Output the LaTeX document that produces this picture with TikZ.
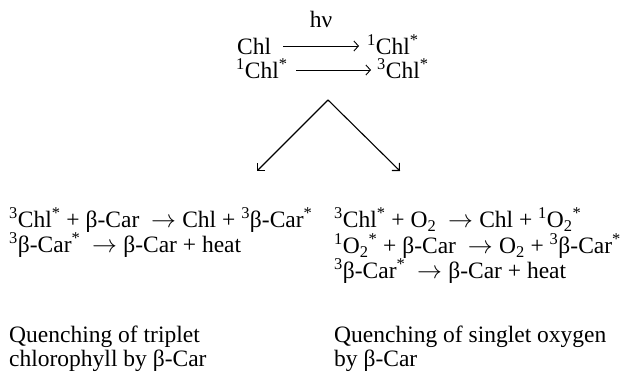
\documentclass[tikz,border=0pt]{standalone}
\usepackage{fontspec}
\setmainfont{Liberation Serif}
\usetikzlibrary{arrows.meta,calc}
\newcommand\SP[1]{\textsuperscript{#1}}
\newcommand\SB[1]{\textsubscript{#1}}
\newcommand\RA{\hspace{0.25em}$\rightarrow$\kern0.02em}
\tikzset{
  txt/.style={anchor=base west,inner sep=0pt,font=\fontsize{23.5}{24}\selectfont},
  toparrow/.style={line width=0.9pt,-{Straight Barb[length=4.5pt,width=10pt,line width=0.9pt]}},
  varrow/.style={line width=1.1pt,-{Straight Barb[angle=90:7.5pt,line width=1.1pt]}}
}
\begin{document}
\begin{tikzpicture}[x=1pt,y=-1pt]
\useasboundingbox (0,0) rectangle (624,374);
% top reactions
\node[txt,anchor=base] (hv) at (321,28) {hν};
\node[txt] (chl) at (237,55) {Chl};
\node[txt] (s1) at (367,55) {\SP{1}Chl\SP{*}};
\node[txt] (s1b) at (236,79) {\SP{1}Chl\SP{*}};
\node[txt] (t3) at (377,79) {\SP{3}Chl\SP{*}};
\coordinate (a1s) at (283,46);
\coordinate (a1e) at (359,46);
\coordinate (a2s) at (296,70);
\coordinate (a2e) at (371,70);
\draw[toparrow] (a1s) -- (a1e);
\draw[toparrow] (a2s) -- (a2e);
% V arrows
\coordinate (apex) at (328,100);
\coordinate (le) at (257,171);
\coordinate (re) at (400,171);
\draw[varrow] (apex) -- (le);
\draw[varrow] (apex) -- (re);
% left block
\node[txt] (l1) at (9,228) {\SP{3}Chl\SP{*} + β-Car \RA{} Chl + \SP{3}β-Car\SP{*}};
\node[txt] (l2) at (9,253) {\SP{3}β-Car\SP{*} \RA{} β-Car + heat};
\node[txt] (l3) at (9,342) {Quenching of triplet};
\node[txt] (l4) at (9,366) {chlorophyll by β-Car};
% right block
\node[txt] (r1) at (334,228) {\SP{3}Chl\SP{*} + O\SB{2} \RA{} Chl + \SP{1}O\SB{2}\SP{*}};
\node[txt] (r2) at (334,254) {\SP{1}O\SB{2}\SP{*} + β-Car \RA{} O\SB{2} + \SP{3}β-Car\SP{*}};
\node[txt] (r3) at (334,279) {\SP{3}β-Car\SP{*} \RA{} β-Car + heat};
\node[txt] (r4) at (334,342) {Quenching of singlet oxygen};
\node[txt] (r5) at (334,366) {by β-Car};
\end{tikzpicture}
\end{document}
